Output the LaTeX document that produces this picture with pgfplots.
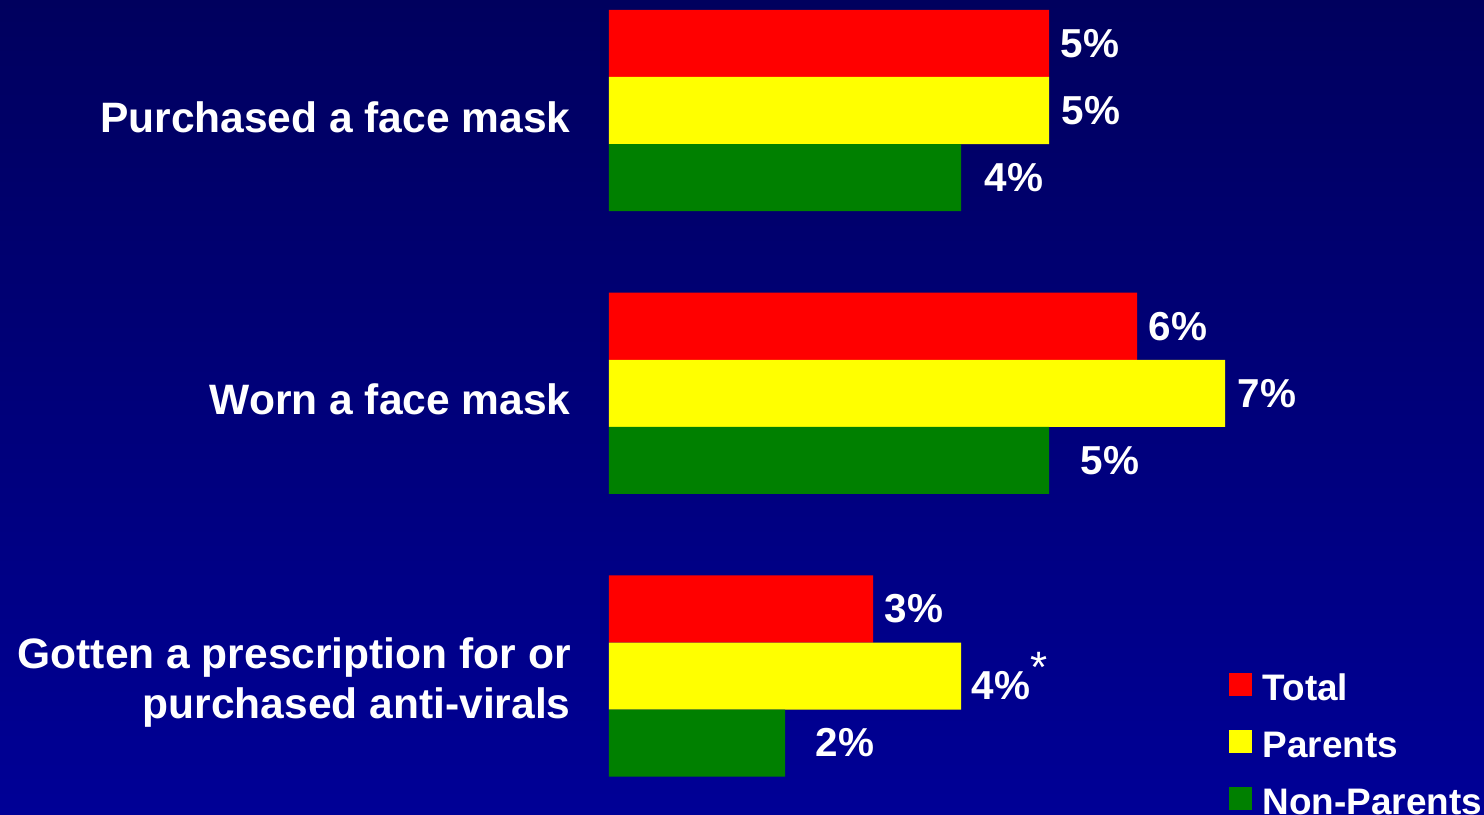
\documentclass[border=0pt]{standalone}
\usepackage{fontspec}
\setmainfont{Liberation Sans}
\usepackage{pgfplots}
\pgfplotsset{compat=1.18}
\usepackage{pgfplotstable}

\definecolor{bgtop}{RGB}{0,0,94}
\definecolor{bgbot}{RGB}{0,0,150}
\definecolor{barred}{RGB}{255,0,0}
\definecolor{baryel}{RGB}{255,255,0}
\definecolor{bargrn}{RGB}{0,128,0}
\newcommand\sast{\raisebox{0.42em}{\mdseries\fontsize{12.5}{12}\selectfont *}}

% y: 2 = face mask purchased, 1 = worn, 0 = anti-virals
\pgfplotstableread{
y x off label
2 5 0.11 5\%
1 6 0.11 6\%
0 3 0.11 3\%
}\total
\pgfplotstableread{
y x off label
2 5 0.12 5\%
1 7 0.12 7\%
0 4 0.10 4\%\sast
}\parents
\pgfplotstableread{
y x off label
2 4 0.23 4\%
1 5 0.31 5\%
0 2 0.30 2\%
}\nonparents

\begin{document}
\begin{tikzpicture}
\path[use as bounding box] (0,0) rectangle (14.84cm,8.15cm);
\clip (0,0) rectangle (14.84cm,8.15cm);
\shade[top color=bgtop, bottom color=bgbot] (0,0) rectangle (14.84cm,8.15cm);
\begin{axis}[
    at={(6.09cm,-0.024cm)}, anchor=south west,
    x=0.88cm, y=2.8275cm,
    xmin=0, xmax=10, ymin=-0.5, ymax=2.5,
    xbar, bar width=0.237,
    axis line style={draw=none},
    tick style={draw=none},
    xtick=\empty,
    ytick={0,1,2},
    yticklabels={{Gotten a prescription for or\\purchased anti-virals},{Worn a face mask},{Purchased a face mask}},
    yticklabel style={font=\bfseries\fontsize{12.1}{14.5}\selectfont, text=white, align=right, xshift=-0.11cm, yshift=-0.065cm},
    clip=false,
    point meta=explicit symbolic,
    visualization depends on={\thisrow{off} \as \myoff},
    nodes near coords,
    nodes near coords style={font=\bfseries\fontsize{11.5}{12}\selectfont, text=white, inner sep=0pt, anchor=west, xshift=\myoff cm},
    legend image code/.code={\fill[#1] (0cm,0cm) rectangle (0.23cm,0.23cm);},
    legend style={at={(0.7034,0.1773)}, anchor=north west, draw=none, fill=none,
        inner sep=0pt, text=white, font=\bfseries\fontsize{10.5}{12}\selectfont,
        cells={anchor=west},
        nodes={inner sep=0pt, text height=0.33cm, text depth=0.24cm},
        /tikz/every odd column/.append style={column sep=0.11cm}},
]
\addplot[fill=barred, draw=none, bar shift=0.237] table[x=x, y=y, meta=label] {\total};
\addlegendentry{Total}
\addplot[fill=baryel, draw=none, bar shift=0] table[x=x, y=y, meta=label] {\parents};
\addlegendentry{Parents}
\addplot[fill=bargrn, draw=none, bar shift=-0.237] table[x=x, y=y, meta=label] {\nonparents};
\addlegendentry{Non-Parents}
\end{axis}
\end{tikzpicture}
\end{document}
